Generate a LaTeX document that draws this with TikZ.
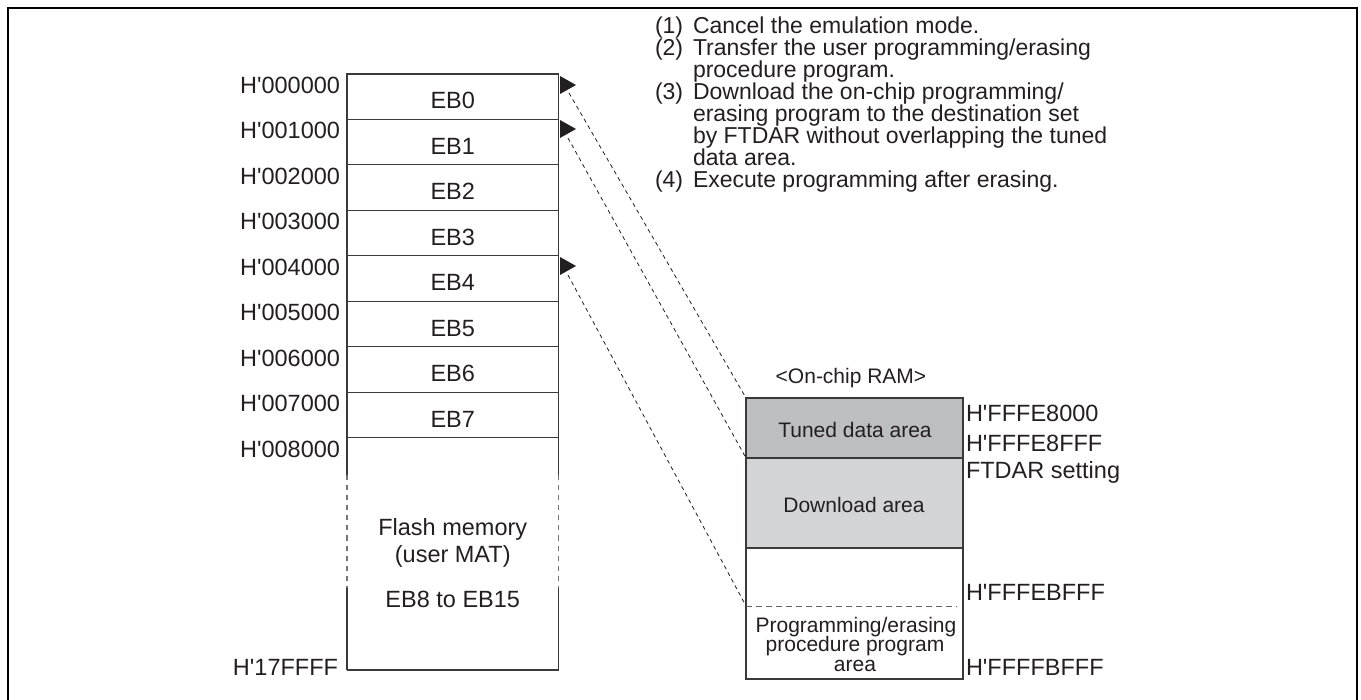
\documentclass[tikz,border=0pt]{standalone}
\usepackage{fontspec}
\newfontfamily\hf{Liberation Sans}
\usetikzlibrary{calc}
\definecolor{ink}{HTML}{231F20}
\definecolor{edge}{HTML}{3A3A3A}
\definecolor{tunedfill}{HTML}{BDBEC0}
\definecolor{dlfill}{HTML}{D3D4D6}
\begin{document}
\begin{tikzpicture}[x=1pt,y=-1pt,
  txt/.style={inner sep=0pt, outer sep=0pt, text=ink, font=\hf\fontsize{23.5}{24}\selectfont},
  small/.style={txt, font=\hf\fontsize{21}{19.5}\selectfont},
  addr/.style={txt, anchor=base east},
  raddr/.style={txt, anchor=base west},
  listtxt/.style={txt, anchor=base west, font=\hf\fontsize{23}{22}\selectfont},
  row/.style={draw=edge, line width=1.1pt, minimum width=211.5pt, minimum height=45.44pt, inner sep=0pt, outer sep=0pt},
  ramcell/.style={draw=edge, line width=1.1pt, minimum width=217pt, inner sep=0pt, outer sep=0pt},
  link/.style={draw=ink, line width=0.8pt, dash pattern=on 4pt off 3.5pt},
  tip/.style={fill=ink, draw=none}
]
\useasboundingbox (0,0) rectangle (1361,700);
% outer frame
\draw[line width=2.6pt, black] (8,705) -- (8,8) -- (1357,8) -- (1357,705);

% ---- flash memory map ----
\foreach \i in {0,...,7}{
  \node[row] (eb\i) at (452.75,{74+45.44*\i+22.72}) {};
  \node[txt, anchor=base] (ebt\i) at (452.75,{74+45.44*\i+35}) {EB\i};
}
\foreach \i in {0,...,8}{
  \node[addr] (ad\i) at (340,{74+45.44*\i+19.5}) {H'00\i000};
}
\node[inner sep=0pt, outer sep=0pt, minimum width=211.5pt, minimum height=232.5pt] (flash) at (452.75,553.75) {};
\draw[edge, line width=1.1pt] (flash.north west) -- (flash.north east);
\draw[edge, line width=1.1pt] (flash.south west) -- (flash.south east);
\draw[edge, line width=1.1pt] (flash.north west) -- ++(0,38) coordinate (lw1);
\draw[edge!70, line width=1.1pt, dash pattern=on 5pt off 5pt] (lw1) -- ++(0,112) coordinate (lw2);
\draw[edge, line width=1.1pt] (lw2) -- (flash.south west);
\draw[edge, line width=1.1pt] (flash.north east) -- ++(0,38) coordinate (rw1);
\draw[edge!70, line width=1.1pt, dash pattern=on 5pt off 5pt] (rw1) -- ++(0,112) coordinate (rw2);
\draw[edge, line width=1.1pt] (rw2) -- (flash.south east);
\node[txt, anchor=base] (fl1) at (452.75,536) {Flash memory};
\node[txt, anchor=base] (fl2) at (452.75,562) {(user MAT)};
\node[txt, anchor=base] (fl3) at (452.75,607) {EB8 to EB15};
\node[addr] (adend) at (338,675) {H'17FFFF};

% ---- on-chip RAM ----
\node[small, anchor=base] (ramt) at (851,384) {<On-chip RAM>};
\node[ramcell, fill=tunedfill, minimum height=60pt] (tuned) at (854.5,428) {};
\node[ramcell, fill=dlfill, minimum height=90pt] (dl) at (854.5,503) {};
\node[ramcell, fill=white, minimum height=131pt] (low) at (854.5,613.5) {};
\coordinate (dsh) at (746,606);
\draw[edge!80, line width=1pt, dash pattern=on 6pt off 4pt] (dsh) -- (957,606);
\node[small, anchor=base] (tunedt) at (855,438) {Tuned data area};
\node[small, anchor=base] (dlt) at (854,513) {Download area};
\node[small, anchor=base] (p1) at (856,632) {Programming/erasing};
\node[small, anchor=base] (p2) at (855,651.5) {procedure program};
\node[small, anchor=base] (p3) at (855,671) {area};
\node[raddr] (r1) at (966,422) {H'FFFE8000};
\node[raddr] (r2) at (966,452) {H'FFFE8FFF};
\node[raddr] (r3) at (966,479) {FTDAR setting};
\node[raddr] (r4) at (966,600) {H'FFFEBFFF};
\node[raddr] (r5) at (966,675) {H'FFFFBFFF};

% ---- arrow tips and dashed links ----
\fill[tip] (560,76) -- (576,85) -- (560,94) -- cycle;
\fill[tip] (560,120) -- (576,129) -- (560,138) -- cycle;
\fill[tip] (560,257) -- (576,266) -- (560,275) -- cycle;
\coordinate (s0) at (569,93);
\coordinate (s1) at (568,138);
\coordinate (s4) at (568,275);
\draw[link] (s0) -- (tuned.north west);
\draw[link] (s1) -- (tuned.south west);
\draw[link] (s4) -- (dsh);

% ---- procedure list ----
\node[listtxt] (n1) at (655,34) {(1)};
\node[listtxt] (l1) at (693,34) {Cancel the emulation mode.};
\node[listtxt] (n2) at (655,56) {(2)};
\node[listtxt] (l2) at (693,56) {Transfer the user programming/erasing};
\node[listtxt] (l2b) at (693,78) {procedure program.};
\node[listtxt] (n3) at (655,100) {(3)};
\node[listtxt] (l3) at (693,100) {Download the on-chip programming/};
\node[listtxt] (l3b) at (693,122) {erasing program to the destination set};
\node[listtxt] (l3c) at (693,144) {by FTDAR without overlapping the tuned};
\node[listtxt] (l3d) at (693,166) {data area.};
\node[listtxt] (n4) at (655,188) {(4)};
\node[listtxt] (l4) at (693,188) {Execute programming after erasing.};
\end{tikzpicture}
\end{document}
